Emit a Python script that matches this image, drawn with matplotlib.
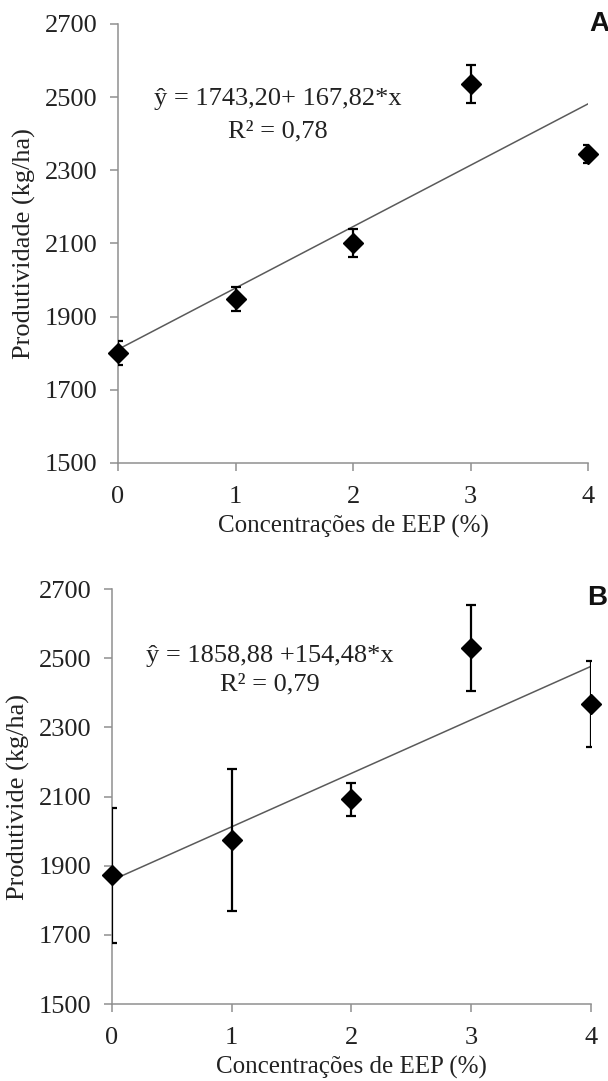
"""Produtividade vs concentracoes de EEP, two panels (A and B)"""
import matplotlib
matplotlib.use("Agg")
import matplotlib.pyplot as plt
import numpy as np

plt.rcParams['font.family'] = ['Liberation Serif', 'DejaVu Serif']

CONC = [0, 1, 2, 3, 4]

## panel A
PROD_A = [1800, 1948, 2101, 2536, 2345]
ERR_A = [33, 33, 38, 53, 25]
EQ_A = "ŷ = 1743,20+ 167,82*x"
R2_A = "R² = 0,78"
YLABEL_A = "Produtividade (kg/ha)"

## panel B
PROD_B = [1872, 1975, 2092, 2529, 2368]
ERR_B = [196, 205, 47, 124, 124]
EQ_B = "ŷ = 1858,88 +154,48*x"
R2_B = "R² = 0,79"
YLABEL_B = "Produtivide (kg/ha)"

YTICKS = [1500, 1700, 1900, 2100, 2300, 2500, 2700]
XLABEL = "Concentrações de EEP (%)"

SPINE = "#8f8f8f"
INK = "#222222"


def panel(ax, prod, err, eq, r2, ylabel, letter, text_pos, letter_pos):
    """Draws one panel with error bars and the linear trend line"""
    x = np.array(CONC)
    slope, inter = np.polyfit(x, prod, 1)
    ax.plot(x, inter + slope * x, color="#5a5a5a", lw=1.1, zorder=2)
    ax.errorbar(x, prod, yerr=err, fmt="none", ecolor="black", elinewidth=1.6,
                capsize=3.6, capthick=1.6, zorder=3)
    ax.plot(x, prod, "D", color="black", markersize=10, clip_on=False, zorder=4)

    ax.set_xlim(0, 4)
    ax.set_ylim(1500, 2700)
    ax.set_xticks(CONC)
    ax.set_yticks(YTICKS)
    for side in ("top", "right"):
        ax.spines[side].set_visible(False)
    for side in ("left", "bottom"):
        ax.spines[side].set_color(SPINE)
        ax.spines[side].set_linewidth(1.1)
    ax.tick_params(direction="out", color=SPINE, length=6, width=1.1,
                   labelsize=19, labelcolor=INK)
    ax.tick_params(axis="x", pad=10.5)
    ax.tick_params(axis="y", pad=9)
    ax.set_xlabel(XLABEL, fontsize=18, color=INK, labelpad=5)
    ax.set_ylabel(ylabel, fontsize=19, color=INK, labelpad=6)

    ax.text(text_pos[0], text_pos[1], eq, fontsize=19, ha="center",
            va="center", color=INK)
    ax.text(text_pos[0], text_pos[2], r2, fontsize=19, ha="center",
            va="center", color=INK)
    ax.text(letter_pos[0], letter_pos[1], letter, transform=ax.transAxes,
            fontsize=20, fontweight="bold", family="Liberation Sans",
            ha="left", va="top", color="#111111")


fig = plt.figure(figsize=(6.08, 10.81), dpi=100, facecolor="white")
ax_a = fig.add_axes([0.1941, 0.5717, 0.773, 0.4061])
ax_b = fig.add_axes([0.1842, 0.0712, 0.7878, 0.3839])

panel(ax_a, PROD_A, ERR_A, EQ_A, R2_A, YLABEL_A, "A",
      (1.36, 2495, 2405), (1.003, 1.03))
panel(ax_b, PROD_B, ERR_B, EQ_B, R2_B, YLABEL_B, "B",
      (1.32, 2505, 2425), (0.992, 1.01))

fig.savefig("out.png", dpi=100, facecolor="white")
